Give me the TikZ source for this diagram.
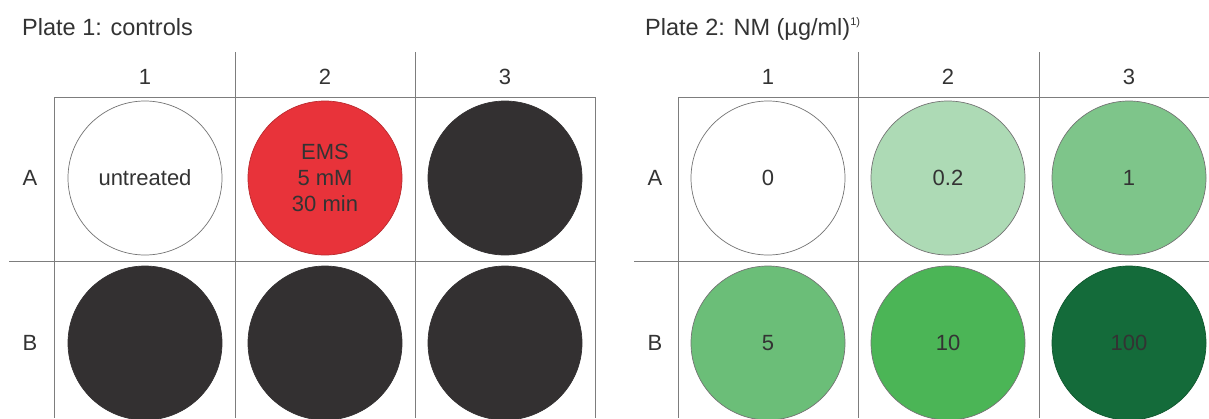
\documentclass[tikz,border=0pt]{standalone}
\usepackage{fontspec}
\setmainfont{Liberation Sans}
\setsansfont{Liberation Sans}
\usepackage{xcolor}
\usepackage{tikz}
\usetikzlibrary{positioning}
\definecolor{gridline}{RGB}{125,125,125}
\definecolor{txt}{RGB}{51,51,51}
\definecolor{ems}{RGB}{232,51,58}
\definecolor{blank}{RGB}{51,48,49}
\definecolor{nmA}{RGB}{173,218,181}
\definecolor{nmB}{RGB}{126,197,138}
\definecolor{nmC}{RGB}{107,190,120}
\definecolor{nmD}{RGB}{75,181,86}
\definecolor{nmE}{RGB}{20,107,58}
\tikzset{
  well/.style={circle, draw=black!55, line width=0.7pt, minimum size=154pt, inner sep=0pt,
    align=center, text=txt, font=\fontsize{22}{26}\selectfont},
  hdr/.style={text=txt, font=\fontsize{22}{26}\selectfont, inner sep=0pt},
  ptitle/.style={text=txt, font=\fontsize{23.5}{28}\selectfont, anchor=base west, inner sep=0pt},
  gridl/.style={draw=gridline, line width=0.9pt}
}
\begin{document}
\begin{tikzpicture}[x=1pt, y=-1pt, font=\sffamily]
  \useasboundingbox (0,0) rectangle (1209,418);
  % Plate 1
  \node[ptitle] (t1) at (22,35) {Plate 1: controls};
  \draw[gridl] (54,97) -- (595,97);
  \draw[gridl] (9,261) -- (595,261);
  \draw[gridl] (54,97) -- (54,418);
  \draw[gridl] (235,52) -- (235,418);
  \draw[gridl] (415,52) -- (415,418);
  \draw[gridl] (595,97) -- (595,418);
  \node[hdr] (c11) at (145,77) {1};
  \node[hdr] (c12) at (325,77) {2};
  \node[hdr] (c13) at (505,77) {3};
  \node[hdr] (rA1) at (30,178) {A};
  \node[hdr] (rB1) at (30,343) {B};
  \node[well, fill=white] (a1) at (145,178) {untreated};
  \node[well, fill=ems, draw=ems!80!black] (a2) at (325,178) {EMS\\5 mM\\30 min};
  \node[well, fill=blank, draw=blank] (a3) at (505,178) {};
  \node[well, fill=blank, draw=blank] (b1) at (145,343) {};
  \node[well, fill=blank, draw=blank] (b2) at (325,343) {};
  \node[well, fill=blank, draw=blank] (b3) at (505,343) {};
  % Plate 2
  \node[ptitle] (t2) at (645,35) {Plate 2: NM (µg/ml)\textsuperscript{\fontsize{11}{12}\selectfont 1)}};
  \draw[gridl] (678,97) -- (1209,97);
  \draw[gridl] (634,261) -- (1209,261);
  \draw[gridl] (678,97) -- (678,418);
  \draw[gridl] (858,52) -- (858,418);
  \draw[gridl] (1039,52) -- (1039,418);
  \node[hdr] (c21) at (768,77) {1};
  \node[hdr] (c22) at (948,77) {2};
  \node[hdr] (c23) at (1129,77) {3};
  \node[hdr] (rA2) at (655,178) {A};
  \node[hdr] (rB2) at (655,343) {B};
  \node[well, fill=white] (n1) at (768,178) {0};
  \node[well, fill=nmA] (n2) at (948,178) {0.2};
  \node[well, fill=nmB] (n3) at (1129,178) {1};
  \node[well, fill=nmC] (n4) at (768,343) {5};
  \node[well, fill=nmD] (n5) at (948,343) {10};
  \node[well, fill=nmE, draw=nmE!80!black] (n6) at (1129,343) {100};
\end{tikzpicture}
\end{document}
